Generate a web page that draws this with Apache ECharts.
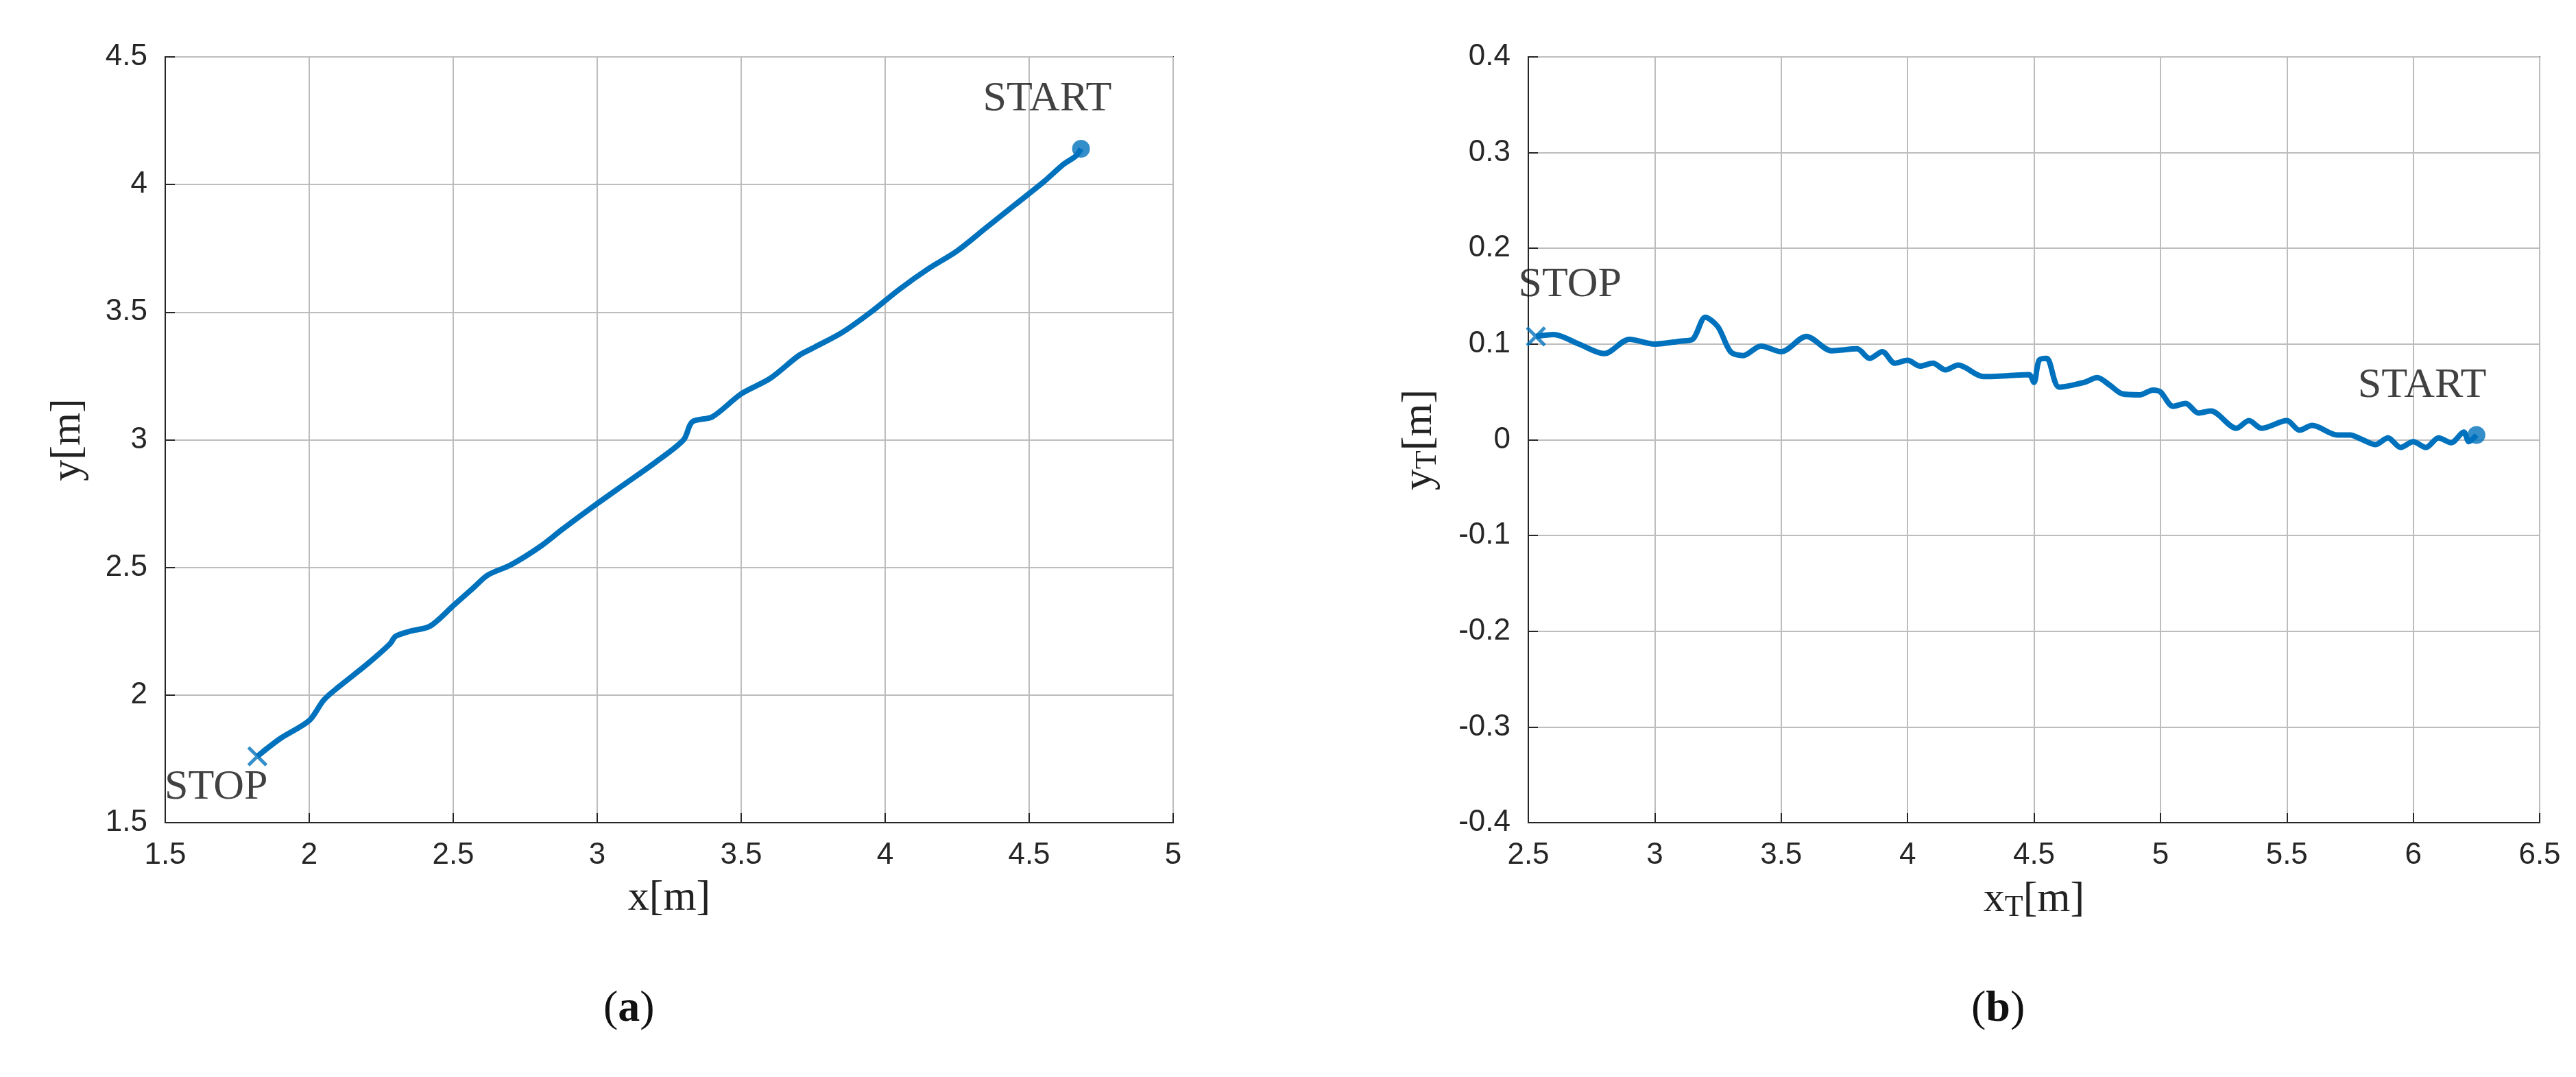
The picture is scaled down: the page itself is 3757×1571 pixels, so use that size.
<!DOCTYPE html>
<html>
<head>
<meta charset="utf-8">
<script src="https://cdn.jsdelivr.net/npm/echarts@6/dist/echarts.min.js"></script>
<style>
  html, body { margin: 0; padding: 0; background: #fff; }
  #main { width: 3757px; height: 1571px; }
</style>
</head>
<body>
<div id="main"></div>
<script>
// 轨迹 (a)
var trackA = [
  [1.82,1.76],[1.9,1.83],[2.0,1.9],[2.05,1.98],[2.1,2.03],[2.2,2.12],[2.28,2.2],[2.3,2.23],
  [2.35,2.25],[2.42,2.27],[2.5,2.35],[2.57,2.42],[2.62,2.47],[2.7,2.51],[2.8,2.58],[2.88,2.65],
  [3.0,2.75],[3.1,2.83],[3.2,2.91],[3.3,3.0],[3.33,3.07],[3.4,3.09],[3.5,3.18],[3.6,3.24],
  [3.7,3.33],[3.75,3.36],[3.85,3.42],[3.95,3.5],[4.05,3.59],[4.15,3.67],[4.25,3.74],[4.35,3.83],
  [4.45,3.92],[4.55,4.01],[4.62,4.08],[4.66,4.11],[4.68,4.14]
];
// 轨迹 (b)
var trackB = [
  [2.53,0.108],[2.6,0.11],[2.7,0.1],[2.8,0.09],[2.9,0.105],[3.0,0.1],[3.1,0.103],[3.15,0.105],
  [3.2,0.128],[3.25,0.118],[3.3,0.092],[3.35,0.088],[3.42,0.098],[3.5,0.092],[3.6,0.108],[3.7,0.093],
  [3.8,0.095],[3.85,0.085],[3.9,0.092],[3.95,0.08],[4.0,0.083],[4.05,0.077],[4.1,0.08],[4.15,0.073],
  [4.2,0.078],[4.3,0.066],[4.4,0.067],[4.48,0.068],[4.5,0.06],[4.52,0.083],[4.55,0.085],[4.6,0.055],
  [4.7,0.06],[4.75,0.065],[4.8,0.057],[4.85,0.048],[4.92,0.047],[4.97,0.052],[5.0,0.05],[5.05,0.035],
  [5.1,0.038],[5.15,0.028],[5.2,0.03],[5.3,0.012],[5.35,0.02],[5.4,0.012],[5.5,0.02],[5.55,0.01],
  [5.6,0.015],[5.7,0.005],[5.75,0.005],[5.8,0.0],[5.85,-0.005],[5.9,0.002],[5.95,-0.008],[6.0,-0.002],
  [6.05,-0.008],[6.1,0.002],[6.15,-0.003],[6.2,0.008],[6.22,-0.002],[6.25,0.005]
];
var startA = [4.68,4.14], stopA = [1.82,1.76];
var startB = [6.25,0.005], stopB = [2.53,0.108];

var blue = '#0072BD';
var serif = '"Liberation Serif", "DejaVu Serif", serif';
var sans = '"Liberation Sans", Arial, sans-serif';
var crossPath = 'path://M0,0L10,10M10,0L0,10';

function axisCommon(min, max, interval, name, nameGap, rich){
  return {
    min: min, max: max, interval: interval,
    name: name, nameLocation: 'middle', nameGap: nameGap,
    nameTextStyle: { fontFamily: serif, fontSize: 62, color: '#222', rich: rich },
    axisLine: { show: true, onZero: false, lineStyle: { color: '#262626', width: 2 } },
    axisTick: { show: true, inside: true, length: 14, lineStyle: { color: '#262626', width: 2 } },
    axisLabel: { fontFamily: sans, fontSize: 44, color: '#262626', margin: 26,
      formatter: function(v){ return String(+v.toFixed(2)); } },
    splitLine: { show: true, lineStyle: { color: '#bdbdbd', width: 2 } }
  };
}
var subRich = {
  a: { fontFamily: serif, fontSize: 62, color: '#222' },
  s: { fontFamily: serif, fontSize: 44, color: '#222', verticalAlign: 'bottom', padding: [22, 0, 0, 0] }
};

var myChart = echarts.init(document.getElementById('main'));
var option = {
  backgroundColor: '#fff',
  animation: false,
  grid: [
    { left: 241, width: 1470, top: 83, height: 1117, show: true, borderColor: '#262626', borderWidth: 2 },
    { left: 2229, width: 1475, top: 83, height: 1117, show: true, borderColor: '#262626', borderWidth: 2 }
  ],
  xAxis: [
    Object.assign(axisCommon(1.5, 5, 0.5, 'x[m]', 80), { gridIndex: 0, type: 'value' }),
    Object.assign(axisCommon(2.5, 6.5, 0.5, '{a|x}{s|T}{a|[m]}', 80, subRich), { gridIndex: 1, type: 'value' })
  ],
  yAxis: [
    Object.assign(axisCommon(1.5, 4.5, 0.5, 'y[m]', 110), { gridIndex: 0, type: 'value' }),
    Object.assign(axisCommon(-0.4, 0.4, 0.1, '{a|y}{s|T}{a|[m]}', 125, subRich), { gridIndex: 1, type: 'value' })
  ],
  series: [
    { type: 'line', xAxisIndex: 0, yAxisIndex: 0, data: trackA, showSymbol: false, smooth: 0.3,
      lineStyle: { color: blue, width: 8 } },
    { type: 'line', xAxisIndex: 1, yAxisIndex: 1, data: trackB, showSymbol: false, smooth: 0.3,
      lineStyle: { color: blue, width: 8 } },
    { type: 'scatter', xAxisIndex: 0, yAxisIndex: 0, data: [startA], symbol: 'circle', symbolSize: 26,
      itemStyle: { color: blue },
      label: { show: true, formatter: 'START', position: [-130, -90], fontFamily: serif, fontSize: 62, color: '#111' } },
    { type: 'scatter', xAxisIndex: 0, yAxisIndex: 0, data: [stopA], symbol: crossPath, symbolSize: 26,
      itemStyle: { color: blue, borderColor: blue, borderWidth: 5 },
      label: { show: true, formatter: 'STOP', position: [-120, 30], fontFamily: serif, fontSize: 62, color: '#111' } },
    { type: 'scatter', xAxisIndex: 1, yAxisIndex: 1, data: [startB], symbol: 'circle', symbolSize: 26,
      itemStyle: { color: blue },
      label: { show: true, formatter: 'START', position: [-160, -90], fontFamily: serif, fontSize: 62, color: '#111' } },
    { type: 'scatter', xAxisIndex: 1, yAxisIndex: 1, data: [stopB], symbol: crossPath, symbolSize: 26,
      itemStyle: { color: blue, borderColor: blue, borderWidth: 5 },
      label: { show: true, formatter: 'STOP', position: [-10, -90], fontFamily: serif, fontSize: 62, color: '#111' } }
  ],
  graphic: [
    { type: 'text', left: 880, top: 1440, style: { text: '({b|a})', fontFamily: serif, fontSize: 64, fill: '#111',
      rich: { b: { fontFamily: serif, fontSize: 64, fontWeight: 'bold', fill: '#111' } } } },
    { type: 'text', left: 2875, top: 1440, style: { text: '({b|b})', fontFamily: serif, fontSize: 64, fill: '#111',
      rich: { b: { fontFamily: serif, fontSize: 64, fontWeight: 'bold', fill: '#111' } } } }
  ]
};
myChart.setOption(option);
</script>
</body>
</html>
